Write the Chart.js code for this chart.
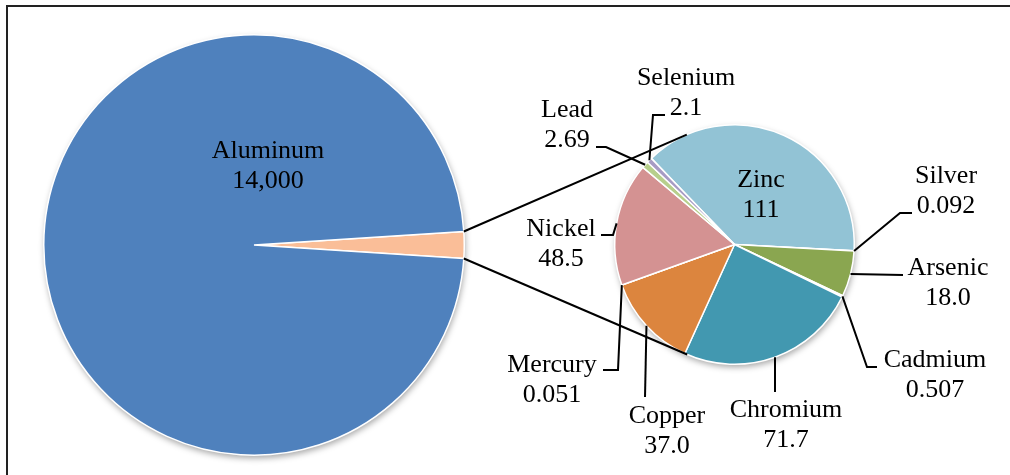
<!DOCTYPE html>
<html>
<head>
<meta charset="utf-8">
<script src="https://cdn.jsdelivr.net/npm/chart.js@4.4.0/dist/chart.umd.min.js"></script>
<style>
  html, body { margin: 0; padding: 0; background: #fff; }
  #wrap { position: relative; width: 1010px; height: 475px; overflow: hidden; }
  #wrap canvas { position: absolute; left: 0; top: 0; }
  #frame { position: absolute; left: 6px; top: 5px; width: 1100px; height: 600px;
           border-left: 2px solid #222; border-top: 2px solid #222; }
</style>
</head>
<body>
<div id="wrap">
  <div id="frame"></div>
  <canvas id="main" width="1010" height="475" style="width:1010px;height:475px"></canvas>
  <canvas id="detail" width="1010" height="475" style="width:1010px;height:475px"></canvas>
</div>
<script>
// main pie: aluminum against the sum of everything else
const aluminumValue = 14000;
const aluminumColor = '#4F81BD';
const otherColor = '#FABE98';

// breakout pie, clockwise from Zinc
const detailNames = ['Zinc', 'Silver', 'Arsenic', 'Cadmium', 'Chromium', 'Copper', 'Mercury', 'Nickel', 'Lead', 'Selenium'];
const detailValues = [111, 0.092, 18.0, 0.507, 71.7, 37.0, 0.051, 48.5, 2.69, 2.1];
const detailDecimals = [0, 3, 1, 3, 1, 1, 3, 1, 2, 1];
const detailColors = ['#92C3D5', '#B9B9B9', '#8AA650', '#6CB4C8', '#4298B0', '#DC853E', '#E3A5A5', '#D49292', '#B7CF8C', '#A79BC4'];

// label text centre x, first baseline y, leader bend points (page px)
const detailLayout = {
  Zinc:     { x: 761, y: 187 },
  Silver:   { x: 946, y: 183, leader: [[900, 213], [912, 213]] },
  Arsenic:  { x: 948, y: 275, leader: [[903, 275]] },
  Cadmium:  { x: 935, y: 367, leader: [[867, 367], [877, 367]] },
  Chromium: { x: 786, y: 417, leader: [[775, 392]] },
  Copper:   { x: 667, y: 423, leader: [[645, 397]] },
  Mercury:  { x: 552, y: 372, leader: [[618, 370], [603, 370]] },
  Nickel:   { x: 561, y: 236, leader: [[613, 235], [601, 235]] },
  Lead:     { x: 567, y: 117, leader: [[606, 147], [596, 147]] },
  Selenium: { x: 686, y: 85,  leader: [[653, 115], [665, 115]] }
};
const aluminumLayout = { x: 268, y: 158 };

const FONT = '26px "Liberation Serif", "Times New Roman", serif';
const LINE_H = 30;

const otherTotal = detailValues.reduce((a, b) => a + b, 0);
const otherDeg = otherTotal / (otherTotal + aluminumValue) * 360;

function drawText(ctx, lines, x, y) {
  ctx.font = FONT;
  ctx.fillStyle = '#000';
  ctx.textAlign = 'center';
  ctx.textBaseline = 'alphabetic';
  lines.forEach((t, i) => ctx.fillText(t, x, y + i * LINE_H));
}

// soft drop shadow under the whole pie
const pieShadow = {
  id: 'pieShadow',
  beforeDatasetsDraw(chart) {
    const arc = chart.getDatasetMeta(0).data[0];
    if (!arc) return;
    const ctx = chart.ctx;
    ctx.save();
    ctx.shadowColor = 'rgba(0,0,0,0.35)';
    ctx.shadowBlur = 6;
    ctx.shadowOffsetX = 1;
    ctx.shadowOffsetY = 3;
    ctx.fillStyle = '#fff';
    ctx.beginPath();
    ctx.arc(arc.x, arc.y, arc.outerRadius, 0, Math.PI * 2);
    ctx.fill();
    ctx.restore();
  }
};

const mainLabel = {
  id: 'mainLabel',
  afterDatasetsDraw(chart) {
    drawText(chart.ctx, ['Aluminum', aluminumValue.toLocaleString('en-US')], aluminumLayout.x, aluminumLayout.y);
  }
};

const detailLabels = {
  id: 'detailLabels',
  afterDatasetsDraw(chart) {
    const ctx = chart.ctx;
    const arcs = chart.getDatasetMeta(0).data;
    ctx.save();
    detailNames.forEach((name, i) => {
      const lay = detailLayout[name];
      const a = arcs[i];
      if (lay.leader) {
        const mid = (a.startAngle + a.endAngle) / 2;
        ctx.strokeStyle = '#000';
        ctx.lineWidth = 2;
        ctx.beginPath();
        ctx.moveTo(a.x + a.outerRadius * Math.cos(mid), a.y + a.outerRadius * Math.sin(mid));
        lay.leader.forEach(p => ctx.lineTo(p[0], p[1]));
        ctx.stroke();
      }
      drawText(ctx, [name, detailValues[i].toFixed(detailDecimals[i])], lay.x, lay.y);
    });
    ctx.restore();
  },
  afterDraw(chart) {
    // series lines: from the edges of the "other" wedge, tangent to the breakout pie
    const main = Chart.getChart('main');
    if (!main) return;
    const big = main.getDatasetMeta(0).data[0];
    const small = chart.getDatasetMeta(0).data[0];
    const ctx = chart.ctx;
    const cx = small.x, cy = small.y, r = small.outerRadius;
    const ends = [big.startAngle, big.endAngle].map(t => [big.x + big.outerRadius * Math.cos(t), big.y + big.outerRadius * Math.sin(t)]);
    ends.sort((p, q) => p[1] - q[1]);
    ctx.save();
    ctx.strokeStyle = '#000';
    ctx.lineWidth = 2;
    ends.forEach((p, k) => {
      const dx = p[0] - cx, dy = p[1] - cy;
      const d = Math.hypot(dx, dy);
      const base = Math.atan2(dy, dx);
      const off = Math.acos(r / d);
      const cands = [base + off, base - off].map(t => [cx + r * Math.cos(t), cy + r * Math.sin(t)]);
      cands.sort((u, v) => u[1] - v[1]);
      const t = k === 0 ? cands[0] : cands[1];
      ctx.beginPath();
      ctx.moveTo(p[0], p[1]);
      ctx.lineTo(t[0], t[1]);
      ctx.stroke();
    });
    ctx.restore();
  }
};

const common = {
  responsive: false,
  animation: false,
  devicePixelRatio: 1,
  plugins: { legend: { display: false }, tooltip: { enabled: false } }
};

new Chart(document.getElementById('main'), {
  type: 'pie',
  data: {
    labels: ['Other', 'Aluminum'],
    datasets: [{
      data: [otherTotal, aluminumValue],
      backgroundColor: [otherColor, aluminumColor],
      borderColor: '#fff',
      borderWidth: 1.5
    }]
  },
  options: {
    ...common,
    rotation: 90 - otherDeg / 2,
    layout: { padding: { left: 43, top: 34, right: 545, bottom: 19 } }
  },
  plugins: [pieShadow, mainLabel]
});

new Chart(document.getElementById('detail'), {
  type: 'pie',
  data: {
    labels: detailNames,
    datasets: [{
      data: detailValues,
      backgroundColor: detailColors,
      borderColor: '#fff',
      borderWidth: 1.5
    }]
  },
  options: {
    ...common,
    rotation: -44,
    layout: { padding: { left: 614, top: 124, right: 155, bottom: 110 } }
  },
  plugins: [pieShadow, detailLabels]
});
</script>
</body>
</html>
